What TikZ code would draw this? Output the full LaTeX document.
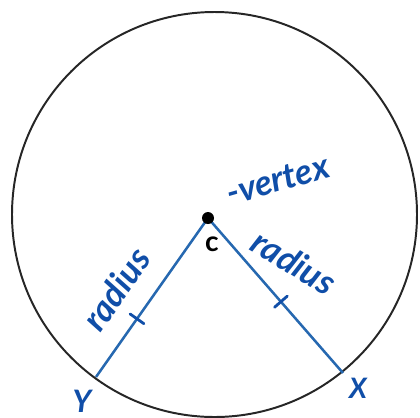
\documentclass[tikz,border=0pt]{standalone}
\usepackage{fontspec}
\setmainfont{Lato}
\usetikzlibrary{calc}
\definecolor{ink}{RGB}{16,78,168}
\definecolor{seg}{RGB}{38,104,176}
\tikzset{
  hand/.style={text=ink, font=\bfseries\itshape\fontsize{25}{29}\selectfont, inner sep=0pt},
  seglink/.style={draw=seg, line width=1.8pt},
  tickmark/.style={draw=ink, line width=2pt, line cap=round}
}
\begin{document}
\begin{tikzpicture}[x=0.025cm, y=-0.025cm]
\useasboundingbox (0,0) rectangle (420,417);
\coordinate (O) at (214.5,214.5);
\coordinate (C) at (208,218);
\coordinate (Y) at (96,377);
\coordinate (X) at (343,373);
\draw[line width=1.4pt, black!85] (O) circle[radius=202.5];
\draw[seglink] (C) -- (Y);
\draw[seglink] (C) -- (X);
\coordinate (t1) at ($(C)!0.634!(Y)$);
\coordinate (t2) at ($(C)!0.54!(X)$);
\draw[tickmark] ($(t1)!6pt!90:(Y)$) -- ($(t1)!6pt!-90:(Y)$);
\draw[tickmark] ($(t2)!6pt!90:(X)$) -- ($(t2)!6pt!-90:(X)$);
\fill[black] (C) circle[radius=6];
\node[font=\bfseries\fontsize{20}{24}\selectfont, inner sep=0pt] (clab) at (212,244) {c};
\node[hand, rotate=16] (vlab) at (278,180) {-vertex};
\node[hand, rotate=55] (rl) at (116,289) {radius};
\node[hand, rotate=-31] (rr) at (294,262) {radius};
\node[hand, font=\bfseries\itshape\fontsize{22}{26}\selectfont] (ylab) at (82,401) {Y};
\node[hand, font=\bfseries\itshape\fontsize{20}{24}\selectfont] (xlab) at (358,388) {X};
\end{tikzpicture}
\end{document}
